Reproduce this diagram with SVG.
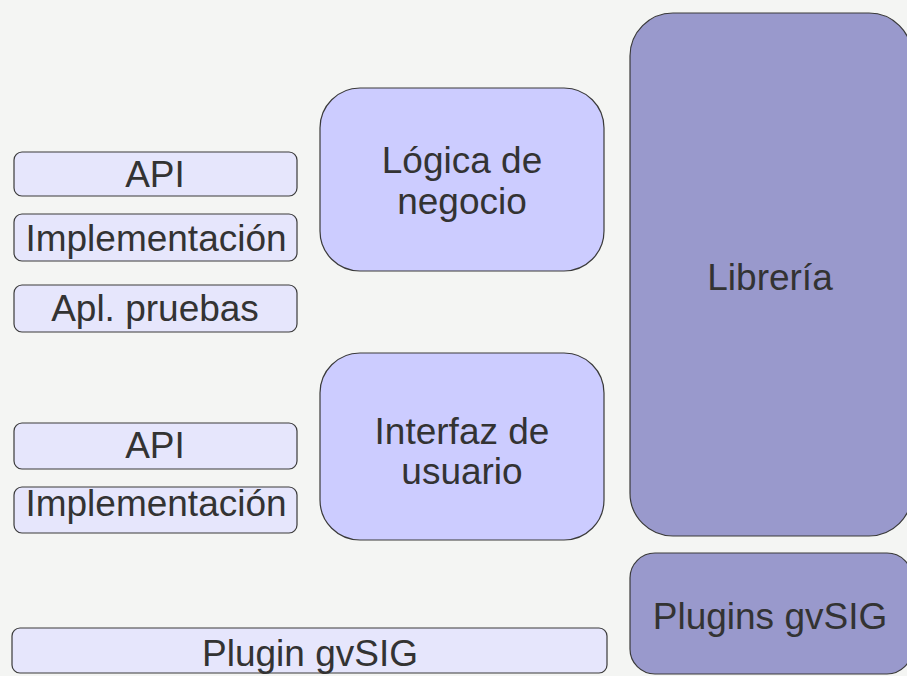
<svg xmlns="http://www.w3.org/2000/svg" width="907" height="676" viewBox="0 0 907 676">
<style>
.b{stroke:#3a3a3a;stroke-width:1.2}
.s{fill:#e6e6fc}
.m{fill:#ccccff}
.d{fill:#9999cc}
text{font-family:"Liberation Sans",Arial,sans-serif;font-size:37px;fill:#333333;text-anchor:middle}
</style>
<rect width="907" height="676" fill="#f4f5f3"/>
<g id="api1"><rect class="b s" x="14" y="152" width="283" height="44" rx="8"/><text x="155" y="187">API</text></g>
<g id="impl1"><rect class="b s" x="14" y="214" width="283" height="47" rx="8"/><text x="156" y="251">Implementación</text></g>
<g id="apl"><rect class="b s" x="14" y="285" width="283" height="47" rx="8"/><text x="155" y="321">Apl. pruebas</text></g>
<g id="api2"><rect class="b s" x="14" y="423" width="283" height="46" rx="8"/><text x="155" y="458">API</text></g>
<g id="impl2"><rect class="b s" x="14" y="487" width="283" height="46" rx="8"/><text x="156" y="516">Implementación</text></g>
<g id="plugin"><rect class="b s" x="12" y="628" width="595" height="45" rx="8"/><text x="310" y="666">Plugin gvSIG</text></g>
<g id="logica"><rect class="b m" x="320" y="88" width="284" height="183" rx="40"/><text x="462" y="173">Lógica de</text><text x="462" y="214">negocio</text></g>
<g id="interfaz"><rect class="b m" x="320" y="353" width="284" height="187" rx="40"/><text x="462" y="444">Interfaz de</text><text x="462" y="484">usuario</text></g>
<g id="libreria"><rect class="b d" x="630" y="13" width="282" height="523" rx="43"/><text x="770" y="290">Librería</text></g>
<g id="plugins"><rect class="b d" x="630" y="553" width="282" height="121" rx="25"/><text x="770" y="629">Plugins gvSIG</text></g>
<g id="connectors"></g>
</svg>
